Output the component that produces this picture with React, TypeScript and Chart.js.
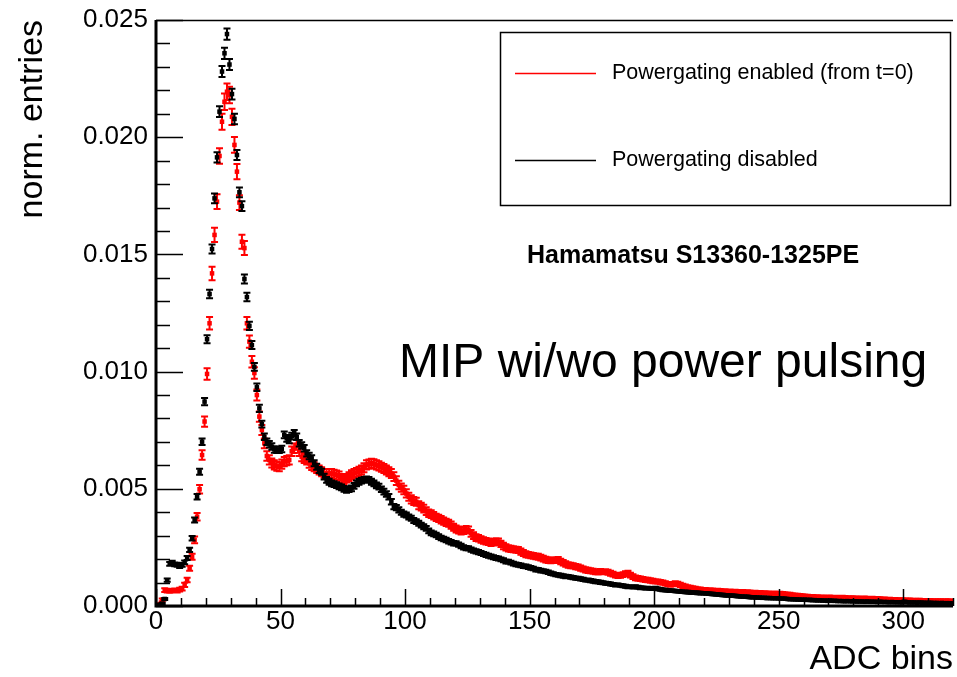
import React, { useEffect, useRef } from "react";
import { Chart, registerables } from "chart.js";

Chart.register(...registerables);

// ---------- data (values in units of 1e-5 normalised entries, one value per 1-ADC bin, bins 0..319) ----------
const VALUE_UNIT = 1e-5;

const powergatingDisabled = [
  3, 5, 10, 30, 110, 180, 185, 178, 176, 170,
  175, 186, 205, 239, 289, 367, 466, 573, 701, 872,
  1138, 1331, 1523, 1739, 1914, 2109, 2280, 2358, 2440, 2310,
  2184, 2078, 1924, 1765, 1706, 1395, 1318, 1195, 1113, 1020,
  933, 843, 776, 722, 701, 690, 680, 668, 666, 666,
  670, 730, 715, 708, 725, 737, 722, 694, 685, 673,
  651, 640, 630, 609, 594, 580, 573, 552, 538, 530,
  523, 520, 516, 510, 506, 500, 495, 498, 502, 512,
  523, 530, 535, 538, 540, 538, 530, 523, 515, 509,
  498, 488, 478, 466, 445, 424, 420, 410, 400, 392,
  388, 380, 374, 365, 360, 353, 345, 338, 331, 320,
  312, 308, 303, 296, 290, 286, 282, 276, 272, 268,
  267, 262, 256, 250, 247, 246, 241, 236, 233, 230,
  226, 222, 218, 214, 211, 208, 205, 203, 199, 195,
  190, 189, 185, 181, 178, 175, 173, 170, 169, 166,
  163, 160, 155, 154, 151, 149, 147, 144, 140, 137,
  134, 132, 130, 128, 126, 125, 123, 121, 119, 118,
  116, 114, 111, 110, 108, 106, 104, 103, 101, 99,
  97, 96, 94, 92, 90, 90, 88, 86, 84, 82,
  82, 81, 82, 80, 78, 77, 76, 76, 75, 74,
  76, 73, 71, 69, 68, 67, 66, 65, 64, 63,
  62, 61, 60, 59, 58, 57, 57, 56, 55, 54,
  54, 53, 52, 51, 50, 49, 48, 47, 46, 45,
  45, 44, 43, 42, 41, 40, 40, 39, 38, 37,
  37, 36, 36, 35, 35, 34, 34, 33, 33, 33,
  32, 32, 31, 30, 29, 29, 28, 28, 27, 27,
  27, 26, 26, 25, 25, 24, 24, 23, 23, 22,
  23, 22, 22, 21, 21, 21, 20, 21, 20, 20,
  20, 19, 19, 19, 18, 19, 18, 18, 18, 17,
  18, 17, 17, 17, 16, 17, 16, 16, 16, 15,
  18, 16, 15, 15, 15, 14, 15, 14, 14, 13,
  14, 13, 13, 13, 12, 13, 12, 12, 12, 11,
];

const powergatingEnabled = [
  2, 8, 26, 68, 66, 64, 65, 67, 66, 70,
  74, 90, 111, 161, 210, 282, 381, 498, 644, 787,
  990, 1206, 1419, 1583, 1725, 1920, 2066, 2151, 2194, 2180,
  2087, 1967, 1853, 1721, 1554, 1527, 1206, 1128, 1042, 994,
  900, 808, 751, 694, 640, 623, 610, 602, 596, 594,
  605, 616, 620, 623, 660, 673, 687, 660, 637, 630,
  623, 609, 600, 594, 587, 580, 573, 566, 566, 565,
  566, 562, 559, 555, 545, 538, 545, 552, 560, 566,
  570, 575, 580, 590, 602, 605, 609, 606, 602, 598,
  592, 587, 580, 573, 565, 552, 535, 516, 505, 495,
  480, 466, 455, 448, 445, 430, 424, 415, 405, 396,
  392, 385, 378, 374, 368, 362, 357, 353, 345, 336,
  328, 324, 320, 322, 326, 324, 310, 300, 292, 289,
  284, 279, 276, 274, 270, 272, 275, 274, 265, 256,
  250, 246, 244, 242, 240, 239, 232, 226, 221, 218,
  216, 214, 212, 210, 206, 202, 198, 196, 194, 195,
  196, 197, 190, 184, 179, 175, 173, 171, 168, 166,
  162, 158, 154, 152, 150, 148, 146, 145, 147, 146,
  146, 144, 140, 136, 132, 130, 131, 134, 138, 140,
  132, 125, 120, 118, 116, 114, 112, 111, 109, 107,
  105, 104, 102, 100, 96, 93, 91, 93, 97, 94,
  90, 86, 83, 80, 78, 76, 74, 72, 71, 69,
  69, 68, 68, 67, 66, 66, 65, 64, 64, 63,
  63, 62, 62, 61, 61, 61, 60, 60, 59, 58,
  58, 57, 57, 56, 56, 55, 55, 54, 54, 53,
  53, 52, 51, 50, 49, 47, 46, 45, 44, 43,
  42, 41, 40, 40, 39, 39, 38, 38, 38, 37,
  38, 37, 37, 37, 36, 37, 36, 35, 35, 35,
  34, 34, 34, 33, 34, 33, 33, 33, 32, 32,
  31, 30, 30, 29, 29, 28, 28, 27, 27, 27,
  26, 26, 26, 25, 25, 25, 25, 24, 24, 24,
  24, 23, 23, 23, 23, 23, 22, 23, 22, 22,
];

// effective number of entries, used for the statistical error bars
const entriesEnabled = 200000;
const entriesDisabled = 500000;

const xRange = [0, 320];
const yRange = [0, 0.025];
const xMajorStep = 50;
const xMinorStep = 10;
const yMajorStep = 0.005;
const yMinorStep = 0.001;

const legendLabels = ["Powergating enabled (from t=0)", "Powergating disabled"];
const seriesColors = ["#ff0000", "#000000"];
const sensorLabel = "Hamamatsu S13360-1325PE";
const headline = "MIP wi/wo power pulsing";
const xTitle = "ADC bins";
const yTitle = "norm. entries";

const FONT = "'Liberation Sans', Arial, Helvetica, sans-serif";

function toPoints(vals: number[]) {
  return vals.map((v, i) => ({ x: i + 0.5, y: v * VALUE_UNIT }));
}
function toErrors(vals: number[], n: number) {
  return vals.map((v) => Math.sqrt((v * VALUE_UNIT) / n));
}

const errorBarPlugin = {
  id: "errorBars",
  beforeDatasetDraw(chart: any, args: any) {
    const ds = chart.data.datasets[args.index];
    const errs: number[] = ds.errorValues;
    if (!errs) return;
    const yScale = chart.scales.y;
    const a = chart.chartArea;
    const ctx = chart.ctx;
    ctx.save();
    ctx.beginPath();
    ctx.rect(a.left, a.top, a.right - a.left, a.bottom - a.top);
    ctx.clip();
    ctx.strokeStyle = ds.pointBackgroundColor;
    ctx.lineWidth = 2;
    ctx.beginPath();
    args.meta.data.forEach((el: any, i: number) => {
      const v = ds.data[i].y;
      const e = errs[i];
      const yt = yScale.getPixelForValue(v + e) - 0.5;
      const yb = yScale.getPixelForValue(v - e) + 0.5;
      ctx.moveTo(el.x, yt);
      ctx.lineTo(el.x, yb);
      ctx.moveTo(el.x - 3.5, yt);
      ctx.lineTo(el.x + 3.5, yt);
      ctx.moveTo(el.x - 3.5, yb);
      ctx.lineTo(el.x + 3.5, yb);
    });
    ctx.stroke();
    ctx.restore();
  },
};

const framePlugin = {
  id: "rootFrame",
  afterDraw(chart: any) {
    const { ctx, chartArea: a, scales } = chart;
    const x = scales.x;
    const y = scales.y;
    ctx.save();
    ctx.strokeStyle = "#000";
    // ticks pointing inward
    ctx.lineWidth = 1.5;
    ctx.beginPath();
    const nY = Math.round((yRange[1] - yRange[0]) / yMinorStep);
    const yPer = Math.round(yMajorStep / yMinorStep);
    for (let k = 0; k <= nY; k++) {
      const py = Math.round(y.getPixelForValue(yRange[0] + k * yMinorStep)) + 0.5;
      const len = k % yPer === 0 ? 27 : 14;
      ctx.moveTo(a.left, py);
      ctx.lineTo(a.left + len, py);
    }
    const nX = Math.round((xRange[1] - xRange[0]) / xMinorStep);
    const xPer = Math.round(xMajorStep / xMinorStep);
    for (let k = 0; k <= nX; k++) {
      const px = Math.round(x.getPixelForValue(xRange[0] + k * xMinorStep)) + 0.5;
      const len = k % xPer === 0 ? 17 : 8;
      ctx.moveTo(px, a.bottom);
      ctx.lineTo(px, a.bottom - len);
    }
    ctx.stroke();
    // frame
    ctx.lineWidth = 1.5;
    ctx.beginPath();
    ctx.moveTo(a.left, a.top + 0.5);
    ctx.lineTo(a.right, a.top + 0.5);
    ctx.stroke();
    ctx.lineWidth = 3;
    ctx.beginPath();
    ctx.moveTo(a.left, a.top);
    ctx.lineTo(a.left, a.bottom);
    ctx.lineTo(a.right, a.bottom);
    ctx.stroke();

    // legend box
    ctx.fillStyle = "#fff";
    ctx.fillRect(500, 32, 450, 173);
    ctx.lineWidth = 1.5;
    ctx.strokeStyle = "#000";
    ctx.strokeRect(500.5, 32.5, 450, 173);
    const rows = [73, 160];
    ctx.font = `21.5px ${FONT}`;
    ctx.textAlign = "left";
    ctx.textBaseline = "middle";
    legendLabels.forEach((lbl, i) => {
      ctx.strokeStyle = seriesColors[i];
      ctx.lineWidth = 1.5;
      ctx.beginPath();
      ctx.moveTo(515, rows[i] + 0.5);
      ctx.lineTo(596, rows[i] + 0.5);
      ctx.stroke();
      ctx.fillStyle = "#000";
      ctx.fillText(lbl, 612, rows[i]);
    });

    // annotations
    ctx.fillStyle = "#000";
    ctx.textBaseline = "alphabetic";
    ctx.font = `bold 25px ${FONT}`;
    ctx.fillText(sensorLabel, 527, 263);
    ctx.font = `48px ${FONT}`;
    ctx.fillText(headline, 399, 377);
    ctx.restore();
  },
};

export default function App() {
  const ref = useRef<HTMLCanvasElement>(null);
  useEffect(() => {
    document.body.style.margin = "0";
    const canvas = ref.current;
    if (!canvas) return;
    const chart = new Chart(canvas, {
      type: "scatter",
      data: {
        datasets: [
          {
            label: legendLabels[1],
            data: toPoints(powergatingDisabled),
            errorValues: toErrors(powergatingDisabled, entriesDisabled),
            pointStyle: "rect",
            pointRadius: 3.2,
            pointBorderWidth: 0,
            pointBackgroundColor: seriesColors[1],
            borderColor: seriesColors[1],
            showLine: false,
          } as any,
          {
            label: legendLabels[0],
            data: toPoints(powergatingEnabled),
            errorValues: toErrors(powergatingEnabled, entriesEnabled),
            pointStyle: "rect",
            pointRadius: 3.2,
            pointBorderWidth: 0,
            pointBackgroundColor: seriesColors[0],
            borderColor: seriesColors[0],
            showLine: false,
          } as any,
        ],
      },
      options: {
        responsive: false,
        devicePixelRatio: 1,
        animation: false,
        events: [],
        layout: { padding: { top: 20, left: 0, right: 0, bottom: 0 } },
        plugins: {
          legend: { display: false },
          tooltip: { enabled: false },
        },
        scales: {
          x: {
            type: "linear",
            min: xRange[0],
            max: xRange[1],
            grid: { display: false, drawTicks: false, tickLength: 0 },
            border: { display: false },
            ticks: {
              stepSize: xMajorStep,
              includeBounds: false,
              autoSkip: false,
              maxRotation: 0,
              padding: 0,
              color: "#000",
              font: { family: FONT, size: 26 },
              callback: (v: any) => String(v),
            },
            title: {
              display: true,
              text: xTitle,
              align: "end",
              color: "#000",
              font: { family: FONT, size: 34, lineHeight: 1 },
              padding: { top: 0, bottom: 0 },
            },
            afterFit: (s: any) => {
              s.height = 71;
              s.paddingLeft = 0;
              s.paddingRight = 0;
            },
          },
          y: {
            type: "linear",
            min: yRange[0],
            max: yRange[1],
            grid: { display: false, drawTicks: false, tickLength: 0 },
            border: { display: false },
            ticks: {
              stepSize: yMajorStep,
              includeBounds: false,
              autoSkip: false,
              padding: 8,
              color: "#000",
              font: { family: FONT, size: 26 },
              callback: (v: any) => Number(v).toFixed(3),
            },
            title: {
              display: true,
              text: yTitle,
              align: "end",
              color: "#000",
              font: { family: FONT, size: 34, lineHeight: 1 },
              padding: { top: 16, bottom: 0 },
            },
            afterFit: (s: any) => {
              s.width = 156;
              s.paddingTop = 0;
              s.paddingBottom = 0;
            },
          },
        },
      } as any,
      plugins: [errorBarPlugin, framePlugin],
    });
    return () => chart.destroy();
  }, []);
  return (
    <div style={{ position: "fixed", left: 0, top: 0, width: 957, height: 677, background: "#fff" }}>
      <canvas ref={ref} width={957} height={677} style={{ display: "block" }} />
    </div>
  );
}
